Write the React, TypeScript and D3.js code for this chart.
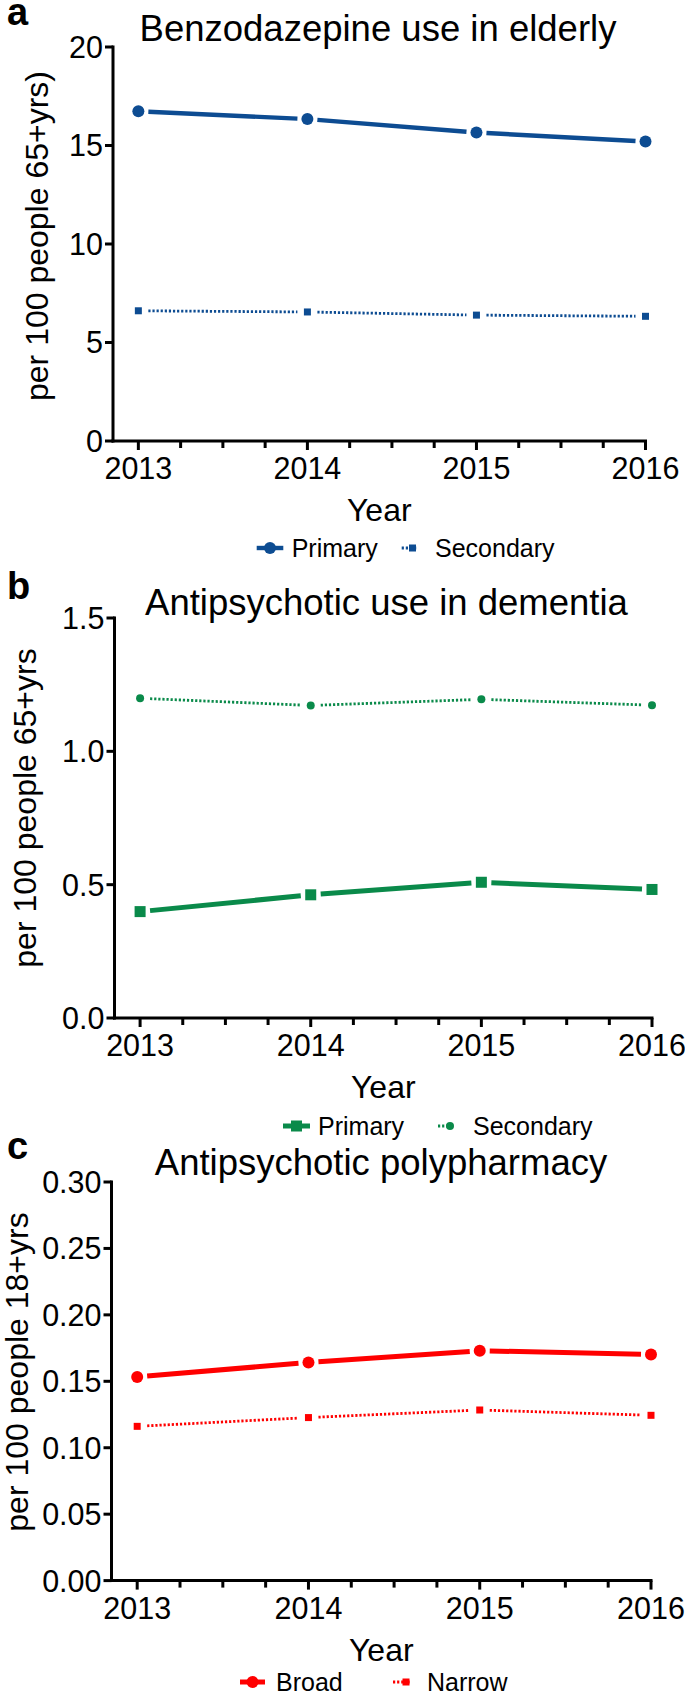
import React from "react";
import * as d3 from "d3";

const years = [2013, 2014, 2015, 2016];
const minorTicks = [2013.25, 2013.5, 2013.75, 2014.25, 2014.5, 2014.75, 2015.25, 2015.5, 2015.75];

const benzoPrimary = [16.74, 16.34, 15.66, 15.2];
const benzoSecondary = [6.61, 6.55, 6.39, 6.33];
const benzoTicks = [0, 5, 10, 15, 20];

const dementiaPrimary = [0.399, 0.462, 0.509, 0.482];
const dementiaSecondary = [1.199, 1.172, 1.195, 1.173];
const dementiaTicks = [0, 0.5, 1.0, 1.5];

const polyBroad = [0.1533, 0.1642, 0.173, 0.1702];
const polyNarrow = [0.1161, 0.1227, 0.1284, 0.1244];
const polyTicks = [0, 0.05, 0.1, 0.15, 0.2, 0.25, 0.3];

const BLUE = "#0d4c92";
const GREEN = "#0a8a4a";
const RED = "#ff0000";
const FONT = "'Liberation Sans', Arial, Helvetica, sans-serif";
const DOTS = "2.2,1.9";

type Series = {
  name: string;
  values: number[];
  color: string;
  marker: "circle" | "square";
  size: number;
  width: number;
  dotted: boolean;
  legendX: number;
  textX: number;
  lineFrom: number;
  lineTo: number;
};

type Panel = {
  letter: string;
  letterY: number;
  title: string;
  titleX: number;
  titleY: number;
  yLabel: string;
  yLabelX: number;
  yLabelY: number;
  left: number;
  right: number;
  top: number;
  bottom: number;
  yMax: number;
  ticks: number[];
  fmt: (v: number) => string;
  legendY: number;
  series: Series[];
};

const panels: Panel[] = [
  {
    letter: "a", letterY: 25, title: "Benzodazepine use in elderly", titleX: 378, titleY: 41,
    yLabel: "per 100 people 65+yrs)", yLabelX: 48, yLabelY: 236,
    left: 113, right: 645.5, top: 47, bottom: 441, yMax: 20, ticks: benzoTicks,
    fmt: d3.format("d"), legendY: 548,
    series: [
      { name: "Primary", values: benzoPrimary, color: BLUE, marker: "circle", size: 6, width: 4.4, dotted: false, legendX: 270, textX: 291.7, lineFrom: 256.7, lineTo: 283.3 },
      { name: "Secondary", values: benzoSecondary, color: BLUE, marker: "square", size: 7, width: 2.8, dotted: true, legendX: 412.5, textX: 435, lineFrom: 401.7, lineTo: 418 },
    ],
  },
  {
    letter: "b", letterY: 599, title: "Antipsychotic use in dementia", titleX: 386.5, titleY: 615,
    yLabel: "per 100 people 65+yrs", yLabelX: 36, yLabelY: 808,
    left: 114.5, right: 652, top: 618, bottom: 1018, yMax: 1.5, ticks: dementiaTicks,
    fmt: d3.format(".1f"), legendY: 1126,
    series: [
      { name: "Primary", values: dementiaPrimary, color: GREEN, marker: "square", size: 11, width: 5, dotted: false, legendX: 296.5, textX: 318, lineFrom: 283, lineTo: 310 },
      { name: "Secondary", values: dementiaSecondary, color: GREEN, marker: "circle", size: 4, width: 2.8, dotted: true, legendX: 450, textX: 473, lineFrom: 438, lineTo: 453 },
    ],
  },
  {
    letter: "c", letterY: 1159, title: "Antipsychotic polypharmacy", titleX: 381, titleY: 1175,
    yLabel: "per 100 people 18+yrs", yLabelX: 28, yLabelY: 1372,
    left: 111.5, right: 651, top: 1182, bottom: 1580.6, yMax: 0.3, ticks: polyTicks,
    fmt: d3.format(".2f"), legendY: 1682,
    series: [
      { name: "Broad", values: polyBroad, color: RED, marker: "circle", size: 6, width: 5, dotted: false, legendX: 252.5, textX: 276, lineFrom: 240, lineTo: 265 },
      { name: "Narrow", values: polyNarrow, color: RED, marker: "square", size: 7, width: 2.8, dotted: true, legendX: 406, textX: 427, lineFrom: 393, lineTo: 410 },
    ],
  },
];

function Marker({ s, cx, cy }: { s: Series; cx: number; cy: number }) {
  if (s.marker === "circle") return <circle cx={cx} cy={cy} r={s.size} fill={s.color} />;
  return <rect x={cx - s.size / 2} y={cy - s.size / 2} width={s.size} height={s.size} fill={s.color} />;
}

function PanelView({ p }: { p: Panel }) {
  const x = d3.scaleLinear().domain([2012.85, 2016]).range([p.left, p.right]);
  const y = d3.scaleLinear().domain([0, p.yMax]).range([p.bottom, p.top]);
  const cx = (p.left + p.right) / 2;
  const gap = 10;
  return (
    <g fontFamily={FONT} fill="#000">
      <text x={7} y={p.letterY} fontSize={38} fontWeight="bold">{p.letter}</text>
      <text x={p.titleX} y={p.titleY} fontSize={36.5} textAnchor="middle">{p.title}</text>
      <text transform={`translate(${p.yLabelX},${p.yLabelY}) rotate(-90)`} fontSize={32} textAnchor="middle">{p.yLabel}</text>
      {/* axes */}
      <line x1={p.left} x2={p.left} y1={p.top - 1.5} y2={p.bottom + 1.5} stroke="#000" strokeWidth={3} />
      <line x1={p.left - 1.5} x2={p.right + 1.5} y1={p.bottom} y2={p.bottom} stroke="#000" strokeWidth={3} />
      {p.ticks.map((t) => (
        <g key={"y" + t}>
          <line x1={p.left - 8} x2={p.left} y1={y(t)} y2={y(t)} stroke="#000" strokeWidth={3} />
          <text x={p.left - 10} y={y(t)} dy="0.36em" fontSize={30.5} textAnchor="end">{p.fmt(t)}</text>
        </g>
      ))}
      {years.map((yr) => (
        <g key={"x" + yr}>
          <line x1={x(yr)} x2={x(yr)} y1={p.bottom} y2={p.bottom + 9} stroke="#000" strokeWidth={3} />
          <text x={x(yr)} y={p.bottom + 38} fontSize={30.5} textAnchor="middle">{yr}</text>
        </g>
      ))}
      {minorTicks.map((m) => (
        <line key={"m" + m} x1={x(m)} x2={x(m)} y1={p.bottom} y2={p.bottom + 7} stroke="#000" strokeWidth={3} />
      ))}
      <text x={cx} y={p.bottom + 80} fontSize={32} textAnchor="middle">Year</text>
      {/* series */}
      {p.series.map((s) => {
        const pts = s.values.map((v, i) => [x(years[i]), y(v)] as [number, number]);
        const segs = pts.slice(0, -1).map((a, i) => {
          const b = pts[i + 1];
          const dx = b[0] - a[0], dy = b[1] - a[1];
          const len = Math.hypot(dx, dy);
          const ux = dx / len, uy = dy / len;
          return [[a[0] + ux * gap, a[1] + uy * gap], [b[0] - ux * gap, b[1] - uy * gap]] as [number, number][];
        });
        const line = d3.line();
        return (
          <g key={s.name}>
            {segs.map((sg, i) => (
              <path key={i} d={line(sg) || ""} stroke={s.color} strokeWidth={s.width} fill="none"
                strokeDasharray={s.dotted ? DOTS : undefined} />
            ))}
            {pts.map((pt, i) => <Marker key={i} s={s} cx={pt[0]} cy={pt[1]} />)}
            {/* legend */}
            <line x1={s.lineFrom} x2={s.lineTo} y1={p.legendY} y2={p.legendY} stroke={s.color}
              strokeWidth={s.width} strokeDasharray={s.dotted ? DOTS : undefined} />
            <Marker s={s} cx={s.legendX} cy={p.legendY} />
            <text x={s.textX} y={p.legendY + 9} fontSize={25}>{s.name}</text>
          </g>
        );
      })}
    </g>
  );
}

export default function App() {
  return (
    <svg width={685} height={1697} style={{ position: "absolute", left: 0, top: 0, background: "#fff" }}>
      <rect width={685} height={1697} fill="#fff" />
      {panels.map((p) => <PanelView key={p.letter} p={p} />)}
    </svg>
  );
}
